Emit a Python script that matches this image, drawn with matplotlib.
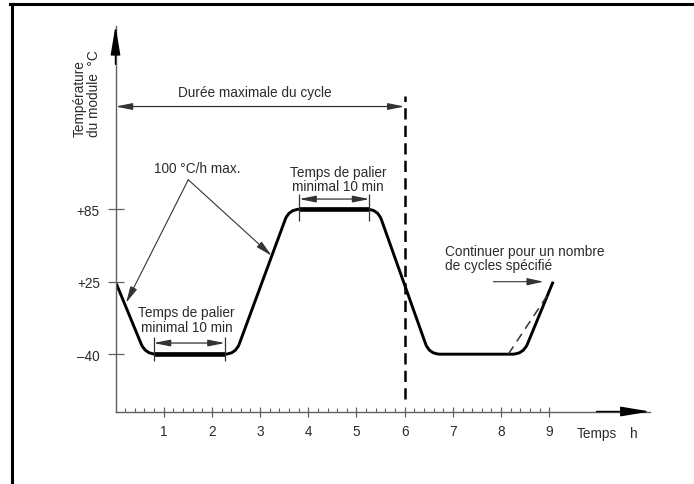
import numpy as np
import matplotlib.pyplot as plt
from matplotlib.path import Path
from matplotlib.patches import PathPatch
from matplotlib.lines import Line2D

plt.rcParams['font.family'] = ['Liberation Sans', 'DejaVu Sans']
plt.rcParams['font.size'] = 9.8

# profil de temperature du module (h, degC)
profil_t = [0, 0.62, 2.49, 3.60, 5.44, 6.51, 8.46, 9.08]
profil_T = [25, -40, -40, 85, 85, -40, -40, 25]
# variante en pointilles en fin de cycle
suite_t = [8.15, 8.98]
suite_T = [-40, 14]
# paliers minimaux de 10 min
palier_bas = [0.79, 2.27]
palier_haut = [3.81, 5.27]
duree_cycle = 6.0

x_ticks = [1, 2, 3, 4, 5, 6, 7, 8, 9]
y_ticks = [-40, 25, 85]
y_labels = ['–40', '+25', '+85']

txt = '#2b2b2b'
gris = '#606060'


def fwd(v):
    # echelle schematique : niveaux -40 / +25 / +85 equidistants
    v = np.asarray(v, dtype=float)
    return np.where(v < 25, (v - 25) / 65.0, (v - 25) / 60.0)


def inv(u):
    u = np.asarray(u, dtype=float)
    return np.where(u < 0, 25 + 65.0 * u, 25 + 60.0 * u)


def arrondi(ax, xs, ys, r=11):
    """polyligne a coins arrondis (r en pixels)"""
    pts = ax.transData.transform(np.column_stack([xs, ys]))
    verts, codes = [pts[0]], [Path.MOVETO]
    for i in range(1, len(pts) - 1):
        a = pts[i] - pts[i - 1]
        b = pts[i + 1] - pts[i]
        la, lb = np.hypot(*a), np.hypot(*b)
        p_in = pts[i] - a / la * min(r, la / 2)
        p_out = pts[i] + b / lb * min(r, lb / 2)
        verts += [p_in, pts[i], p_out]
        codes += [Path.LINETO, Path.CURVE3, Path.CURVE3]
    verts.append(pts[-1])
    codes.append(Path.LINETO)
    verts = ax.transData.inverted().transform(np.array(verts))
    return Path(verts, codes)


W, H = 694, 485
fig = plt.figure(figsize=(W / 100, H / 100), dpi=100)
ax = fig.add_axes([115.5 / W, (H - 412.5) / H, (650 - 115.5) / W, (412.5 - 26.7) / H])
ax.set_yscale('function', functions=(fwd, inv))
ax.set_xlim(0, 11.09)
ax.set_ylim(-91.4, 236.9)

for s in ['top', 'right']:
    ax.spines[s].set_visible(False)
for s in ['left', 'bottom']:
    ax.spines[s].set_color(gris)
    ax.spines[s].set_linewidth(1.0)

ax.set_xticks(x_ticks)
ax.set_xticklabels([str(v) for v in x_ticks])
ax.set_xticks(np.arange(0.2, 9, 0.2), minor=True)
ax.set_yticks(y_ticks)
ax.set_yticklabels(y_labels)
ax.set_yticks([], minor=True)
ax.tick_params(axis='x', which='major', direction='inout', length=6.5, width=0.9,
               color=gris, pad=5.4, labelcolor=txt)
ax.tick_params(axis='x', which='minor', direction='in', length=3.2, width=0.8, color=gris)
ax.tick_params(axis='y', which='major', direction='inout', length=11, width=0.9,
               color=gris, pad=5.7, labelcolor=txt)

# fleches des axes
tete_axe = dict(arrowstyle='-|>,head_length=1.8,head_width=0.3', mutation_scale=10,
                color='black', lw=1.0, shrinkA=0, shrinkB=0)
ax.annotate('', xy=(0, 1), xytext=(0, 0.9), xycoords='axes fraction', arrowprops=tete_axe,
            annotation_clip=False)
ax.annotate('', xy=(1, 0), xytext=(0.9, 0), xycoords='axes fraction', arrowprops=tete_axe,
            annotation_clip=False)

# profil
ax.add_patch(PathPatch(arrondi(ax, profil_t, profil_T), fill=False, lw=2.1, ec='black',
                       capstyle='butt', joinstyle='round'))
ax.plot(palier_bas, [-40, -40], color='black', lw=3.3, solid_capstyle='butt')
ax.plot(palier_haut, [85, 85], color='black', lw=3.3, solid_capstyle='butt')
ax.plot(suite_t, suite_T, color='#333333', lw=1.1, linestyle=(0, (6, 4)))

# duree maximale du cycle
ax.plot([duree_cycle, duree_cycle], [-80, 179], color='black', lw=1.8,
        linestyle=(0, (4.5, 2.5)))
fl2 = dict(arrowstyle='<|-|>,head_length=1.0,head_width=0.2', mutation_scale=10,
           color='#333333', lw=0.9, shrinkA=0, shrinkB=0)
fl1 = dict(arrowstyle='-|>,head_length=1.0,head_width=0.22', mutation_scale=10,
           color='#333333', lw=0.8, shrinkA=0, shrinkB=0)
ax.annotate('', xy=(0, 170), xytext=(duree_cycle, 170), arrowprops=fl2)
ax.text(2.89, 182, 'Durée maximale du cycle', ha='center', va='center', color=txt)

# vitesse de variation
ax.text(1.70, 119, '100 °C/h max.', ha='center', va='center', color=txt)
ax.annotate('', xy=(0.22, 6), xytext=(1.51, 109.4), arrowprops=fl1)
ax.annotate('', xy=(3.24, 46.5), xytext=(1.51, 109.4), arrowprops=fl1)

# paliers
ax.vlines(palier_bas, -45.8, -24.6, color='#333333', lw=0.9)
ax.vlines(palier_haut, 75.5, 97.6, color='#333333', lw=0.9)
ax.annotate('', xy=(palier_bas[0], -30), xytext=(palier_bas[1], -30), arrowprops=fl2)
ax.annotate('', xy=(palier_haut[0], 93.4), xytext=(palier_haut[1], 93.4), arrowprops=fl2)
ax.text(1.47, -9, 'Temps de palier\nminimal 10 min', ha='center', va='center',
        linespacing=1.05, color=txt)
ax.text(4.62, 110, 'Temps de palier\nminimal 10 min', ha='center', va='center',
        linespacing=1.05, color=txt)

# suite des cycles
ax.text(6.84, 44.5, 'Continuer pour un nombre\nde cycles spécifié', ha='left', va='center',
        linespacing=1.05, color=txt)
ax.annotate('', xy=(8.88, 25), xytext=(7.84, 25), arrowprops=fl1)

# titres des axes
ax.text(9.57, -111, 'Temps', ha='left', va='center', color=txt)
ax.text(10.67, -111, 'h', ha='left', va='center', color=txt)
ax.text(-0.59, 145.6, 'Température\ndu module  °C', rotation=90, ha='center', va='bottom',
        multialignment='left', linespacing=1.0, color=txt)

# cadre
fig.add_artist(Line2D([11.5 / W, 11.5 / W], [0, 1 - 4.5 / H], color='black', lw=2.2))
fig.add_artist(Line2D([11.5 / W - 1.5 / W, 1], [1 - 4.5 / H, 1 - 4.5 / H], color='black', lw=2.2))

fig.savefig('out.png', dpi=100)
